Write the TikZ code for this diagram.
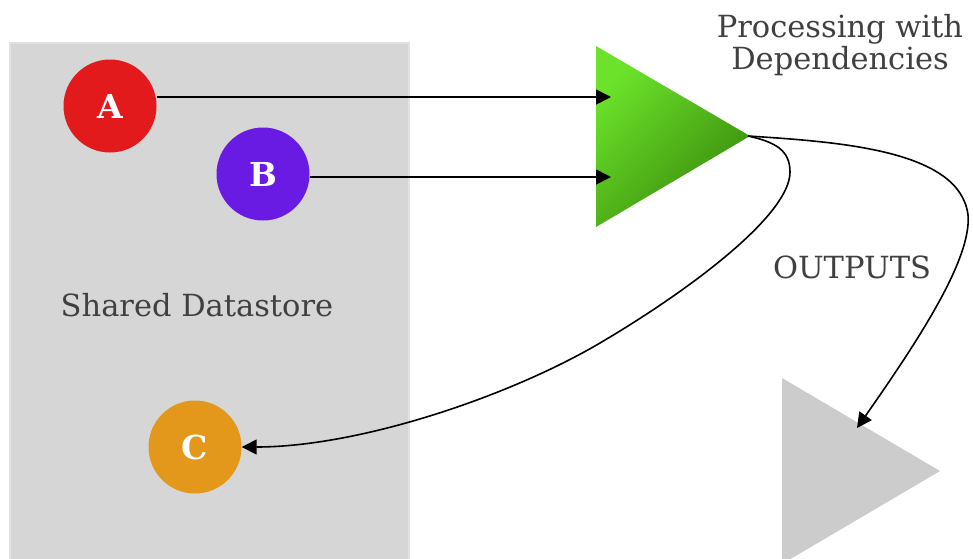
\documentclass[tikz,border=0pt]{standalone}
\usepackage{fontspec}
\setmainfont{DejaVu Serif}
\usetikzlibrary{arrows.meta}
\definecolor{storegray}{HTML}{D6D6D6}
\definecolor{storeedge}{HTML}{E2E2E2}
\definecolor{cA}{HTML}{E31A1C}
\definecolor{cB}{HTML}{6A1BE3}
\definecolor{cC}{HTML}{E3981B}
\definecolor{glight}{HTML}{6CE32A}
\definecolor{gdark}{HTML}{3A8A0C}
\definecolor{outgray}{HTML}{CCCCCC}
\definecolor{txt}{HTML}{404040}
\tikzset{
  ball/.style={circle, minimum size=93pt, inner sep=0pt, text=white, font=\fontsize{33}{33}\selectfont\bfseries},
  label text/.style={text=txt, font=\fontsize{30.5}{32}\selectfont, inner sep=0pt, align=center},
  conn/.style={draw=black, line width=1.6pt, -{Triangle[length=15pt,width=15pt]}},
}
\begin{document}
\begin{tikzpicture}[x=1pt,y=-1pt]
\useasboundingbox (0,0) rectangle (973,558);
\fill[white] (0,0) rectangle (973,558);
% shared datastore
\node[draw=storeedge, line width=1.5pt, fill=storegray, minimum width=399pt, minimum height=520pt, inner sep=0pt, anchor=north west] (store) at (9,42) {};
\node[label text] (storelbl) at (197,305) {Shared Datastore};
% circles
\node[ball, fill=cA] (A) at (110,106) {A};
\node[ball, fill=cB] (B) at (263,174) {B};
\node[ball, fill=cC] (C) at (195,447) {C};
% processing triangle
\shade[top color=glight, bottom color=gdark, shading angle=45] (596,46) -- (750,136) -- (596,227) -- cycle;
\coordinate (tip) at (748,136);
\coordinate (inA) at (611,97);
\coordinate (inB) at (611,177);
\node[label text] (proc) at (840,45) {Processing with\\Dependencies};
% output triangle
\fill[outgray] (782,378) -- (940,471) -- (782,564) -- cycle;
\coordinate (outTip) at (857,428);
\node[label text] (outs) at (852,267) {OUTPUTS};
% connectors
\draw[conn] (A.east |- inA) -- (inA);
\draw[conn] (B.east |- inB) -- (inB);
\draw[conn] (tip) .. controls (775,142) and (790,150) .. (790,172) .. controls (790,215) and (690,290) .. (600,343) .. controls (510,396) and (360,447) .. (C.east);
\draw[conn] (tip) .. controls (840,142) and (960,150) .. (968,215) .. controls (972,260) and (915,345) .. (outTip);
\end{tikzpicture}
\end{document}
